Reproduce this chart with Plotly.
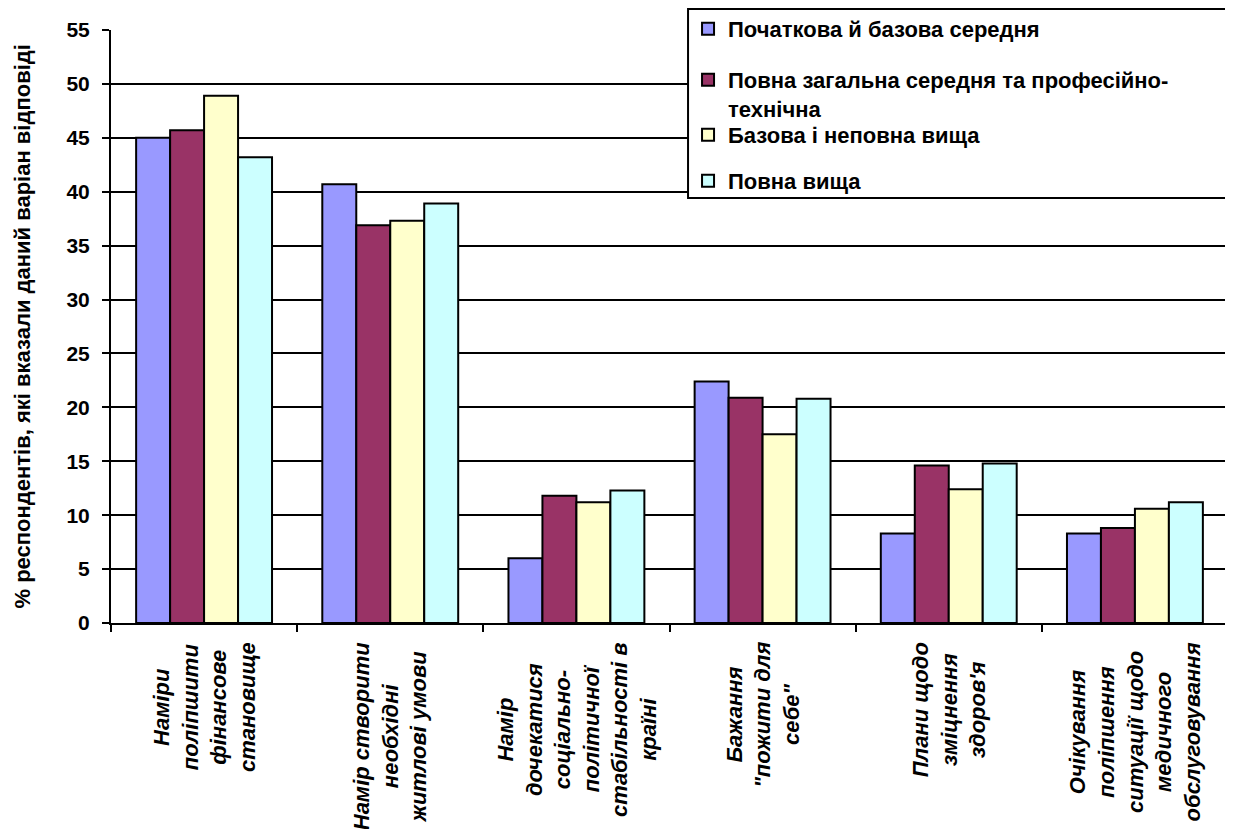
import plotly.graph_objects as go

categories = [
    "Наміри<br>поліпшити<br>фінансове<br>становище",
    "Намір створити<br>необхідні<br>житлові умови",
    "Намір<br>дочекатися<br>соціально-<br>політичної<br>стабільності в<br>країні",
    "Бажання<br>\"пожити для<br>себе\"",
    "Плани щодо<br>зміцнення<br>здоров'я",
    "Очікування<br>поліпшення<br>ситуації щодо<br>медичного<br>обслуговування",
]
cat_ids = ["c1", "c2", "c3", "c4", "c5", "c6"]

series_names = [
    "Початкова й базова середня",
    "Повна загальна середня та професійно-<br>технічна",
    "Базова і неповна вища",
    "Повна вища",
]
primary = [45.0, 40.7, 6.0, 22.4, 8.3, 8.3]
secondary = [45.7, 36.9, 11.8, 20.9, 14.6, 8.8]
higher_basic = [48.9, 37.3, 11.2, 17.5, 12.4, 10.6]
higher_full = [43.2, 38.9, 12.3, 20.8, 14.8, 11.2]
colors = ["#9999FF", "#993366", "#FFFFCC", "#CCFFFF"]

y_ticks = list(range(0, 56, 5))
y_title = "% респондентів, які вказали даний варіан відповіді"
font_family = "Liberation Sans, Arial, sans-serif"

fig = go.Figure()
legend_ids = ["legend", "legend2", "legend3", "legend4"]
for name, vals, col, lg in zip(series_names, [primary, secondary, higher_basic, higher_full], colors, legend_ids):
    fig.add_trace(go.Bar(
        x=cat_ids, y=vals, name=name,
        marker=dict(color=col, line=dict(color="black", width=2)),
        legend=lg,
    ))

# category labels as rotated, centred text blocks under the axis
for cid, label in zip(cat_ids, categories):
    fig.add_annotation(
        x=cid, xref="x", y=0, yref="paper",
        text=label, textangle=-90, showarrow=False,
        xanchor="center", yanchor="top", yshift=-17, align="center",
        font=dict(family=font_family, size=22, color="black", weight="bold", style="italic"),
    )

# y axis title
fig.add_annotation(
    x=0, xref="paper", y=0.5, yref="paper", xshift=-89,
    text=y_title, textangle=-90, showarrow=False,
    xanchor="center", yanchor="middle",
    font=dict(family=font_family, size=22, color="black", weight="bold"),
)

# legend frame (plot area: 1117 x 593 px)
fig.add_shape(type="rect", xref="paper", yref="paper",
              x0=0.5166, x1=1.0036, y0=0.7167, y1=1.0354,
              line=dict(color="black", width=2), fillcolor="white", layer="above")

leg_font = dict(family=font_family, size=22, color="black", weight="bold")
leg_common = dict(x=0.5166, xanchor="left", bgcolor="rgba(0,0,0,0)", borderwidth=0,
                  font=leg_font, valign="top")

fig.update_layout(
    width=1225, height=821,
    paper_bgcolor="white", plot_bgcolor="white",
    margin=dict(l=103, r=5, t=22, b=206, autoexpand=False),
    barmode="group", bargap=0.27, bargroupgap=0,
    font=dict(family=font_family, color="black"),
    showlegend=True,
    legend=dict(y=1.0017, yanchor="middle", **leg_common),
    legend2=dict(y=0.9511, yanchor="top", **leg_common),
    legend3=dict(y=0.8229, yanchor="middle", **leg_common),
    legend4=dict(y=0.7454, yanchor="middle", **leg_common),
    xaxis=dict(
        showticklabels=False, showline=True, linecolor="black", linewidth=2,
        ticks="outside", tickson="boundaries", ticklen=7, tickwidth=2, tickcolor="black",
        showgrid=False,
    ),
    yaxis=dict(
        range=[0, 55], tickvals=y_ticks, showline=True, linecolor="black", linewidth=2,
        ticks="outside", ticklen=7, tickwidth=2, tickcolor="black", ticklabelstandoff=8,
        showgrid=True, gridcolor="black", gridwidth=2, zeroline=False,
        tickfont=dict(family=font_family, size=21, color="black", weight="bold"),
        automargin=False,
    ),
)

fig.write_html("out.html")
